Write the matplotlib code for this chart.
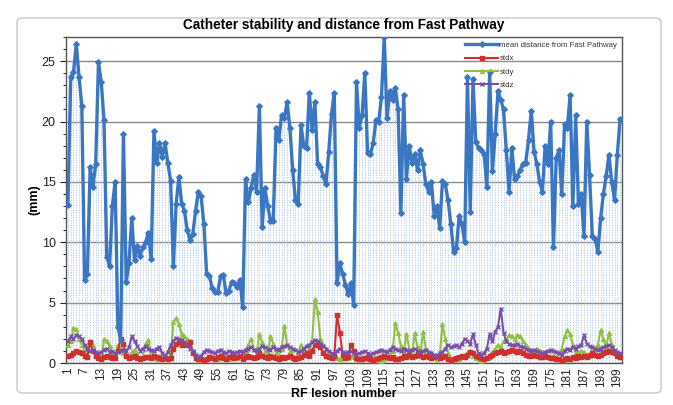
import matplotlib
matplotlib.use("Agg")
import matplotlib.pyplot as plt
from matplotlib.patches import FancyBboxPatch
from matplotlib.ticker import MultipleLocator
import numpy as np

lesion = list(range(1, 201))

mean_dist = [
    13.1, 23.7, 24.1, 26.4, 23.7, 21.3, 6.9, 7.4, 16.2, 14.6,
    16.5, 24.9, 23.3, 20.1, 8.8, 8.0, 13.0, 15.0, 3.0, 1.9,
    19.0, 6.7, 8.3, 12.0, 8.5, 9.7, 8.9, 9.6, 10.0, 10.8,
    8.6, 19.2, 16.6, 18.2, 17.1, 18.2, 16.6, 15.1, 8.0, 13.2,
    15.4, 13.2, 12.6, 11.0, 10.2, 10.7, 12.6, 14.2, 13.8, 11.5,
    7.4, 7.2, 6.2, 5.9, 5.9, 7.2, 7.3, 5.8, 6.0, 6.7,
    6.6, 6.3, 6.9, 4.6, 15.2, 13.3, 14.5, 15.6, 14.2, 21.3,
    11.3, 14.5, 13.0, 11.8, 11.8, 19.5, 18.5, 20.5, 20.3, 21.6,
    19.5, 16.0, 13.5, 13.2, 19.7, 18.0, 17.8, 22.4, 19.3, 21.6,
    16.5, 16.2, 15.5, 14.8, 17.5, 20.6, 22.4, 6.6, 8.3, 7.4,
    6.5, 5.7, 6.6, 4.8, 23.3, 19.5, 20.5, 24.0, 17.4, 17.3,
    18.2, 20.1, 20.0, 22.0, 27.0, 20.3, 22.5, 21.8, 22.8, 21.0,
    12.4, 22.2, 15.2, 18.0, 16.6, 17.3, 16.0, 17.6, 16.5, 14.8,
    14.2, 15.0, 12.2, 13.0, 11.2, 15.1, 14.8, 13.5, 11.5, 9.2,
    9.5, 12.2, 11.5, 10.0, 23.7, 12.5, 23.5, 18.3, 17.8, 17.6,
    17.3, 14.6, 24.1, 15.9, 19.0, 22.5, 21.8, 21.0, 17.6, 14.2,
    17.8, 15.2, 15.5, 16.0, 16.5, 16.6, 18.5, 20.9, 17.5, 16.5,
    15.0, 14.2, 18.0, 16.5, 20.0, 9.6, 17.0, 17.6, 14.0, 19.8,
    19.5, 22.2, 13.0, 20.5, 13.2, 14.0, 10.5, 20.0, 15.6, 10.5,
    10.3, 9.2, 12.0, 14.0, 15.5, 17.2, 15.0, 13.5, 17.2, 20.2,
]

stdx = [
    0.6, 0.7, 0.8, 1.0, 0.9, 0.8, 0.6, 0.5, 1.7, 1.0, 0.6, 0.4, 0.3, 0.5, 0.6, 0.5, 0.4, 0.4, 1.0, 2.0,
    1.6, 0.6, 0.4, 0.5, 0.6, 0.4, 0.3, 0.4, 0.5, 0.5, 0.4, 0.6, 0.5, 0.4, 0.3, 0.4, 0.3, 0.4, 1.2, 1.6,
    1.7, 1.5, 1.6, 1.5, 1.7, 0.8, 0.4, 0.3, 0.3, 0.2, 0.3, 0.5, 0.4, 0.3, 0.5, 0.6, 0.4, 0.3, 0.5, 0.6,
    0.4, 0.5, 0.6, 0.3, 0.5, 0.6, 0.5, 0.4, 0.5, 0.8, 0.6, 0.5, 0.4, 0.6, 0.5, 0.4, 0.3, 0.5, 0.4, 0.5,
    0.6, 0.4, 0.3, 0.4, 0.5, 0.7, 0.8, 0.6, 1.0, 1.5, 1.6, 1.3, 0.8, 0.6, 0.5, 0.4, 0.6, 4.0, 2.5, 0.7,
    0.4, 0.5, 1.5, 1.0, 0.4, 0.3, 0.3, 0.4, 0.5, 0.3, 0.2, 0.3, 0.4, 0.5, 0.6, 0.5, 0.4, 0.5, 0.3, 0.3,
    0.4, 0.6, 0.5, 0.7, 0.5, 0.6, 0.8, 0.7, 0.5, 0.6, 0.5, 0.4, 0.5, 0.6, 0.4, 0.5, 0.6, 0.3, 0.2, 0.3,
    0.4, 0.5, 0.6, 0.5, 0.7, 0.9, 0.8, 0.6, 0.5, 0.4, 0.3, 0.4, 0.6, 0.7, 0.8, 0.9, 1.0, 0.8, 0.9, 1.0,
    1.1, 1.0, 0.9, 1.0, 0.8, 0.7, 0.6, 0.6, 0.7, 0.6, 0.5, 0.5, 0.6, 0.5, 0.4, 0.4, 0.3, 0.3, 0.2, 0.3,
    0.4, 0.3, 0.5, 0.4, 0.6, 0.5, 0.6, 0.5, 0.7, 0.8, 0.7, 0.6, 0.7, 0.8, 0.9, 1.0, 0.9, 0.8, 0.6, 0.5,
]

stdy = [
    1.5, 1.8, 2.9, 2.8, 2.0, 1.5, 1.0, 1.2, 1.8, 1.5, 0.8, 0.5, 0.3, 2.0, 1.8, 1.4, 0.8, 0.5, 1.5, 1.2,
    0.8, 0.6, 0.5, 0.9, 1.1, 0.7, 0.4, 0.5, 1.6, 1.9, 0.8, 0.4, 0.3, 0.5, 0.6, 0.5, 0.4, 0.6, 3.4, 3.7,
    3.2, 2.4, 2.2, 2.0, 1.8, 1.0, 0.5, 0.3, 0.4, 0.3, 0.4, 0.6, 0.5, 0.4, 0.3, 0.5, 0.6, 0.4, 0.3, 0.4,
    0.5, 0.4, 0.6, 0.5, 1.0, 1.5, 2.0, 1.2, 0.8, 2.4, 1.7, 1.0, 0.8, 2.2, 1.6, 0.8, 0.6, 1.2, 3.1, 1.5,
    1.0, 0.6, 0.4, 0.8, 1.5, 1.0, 0.8, 1.2, 1.8, 5.3, 4.2, 2.0, 1.5, 1.2, 0.9, 0.6, 0.5, 0.4, 0.3, 0.4,
    0.5, 0.4, 0.6, 0.5, 0.3, 0.4, 0.5, 0.4, 0.3, 0.4, 0.5, 0.4, 0.3, 0.2, 0.3, 0.4, 0.6, 1.0, 3.3, 2.5,
    1.4, 0.9, 2.4, 1.2, 0.7, 2.5, 1.3, 0.6, 2.6, 1.2, 0.6, 0.4, 0.5, 0.3, 0.6, 3.2, 2.0, 0.8, 0.4, 0.3,
    0.4, 0.3, 0.5, 0.6, 0.8, 1.0, 0.6, 0.4, 0.3, 0.2, 0.3, 0.4, 0.5, 0.9, 1.2, 1.5, 1.3, 1.8, 2.0, 2.3,
    2.2, 2.0, 2.3, 2.2, 1.8, 1.5, 1.2, 1.0, 0.8, 1.2, 1.0, 0.7, 0.6, 0.5, 0.4, 0.6, 0.5, 0.8, 1.2, 2.2,
    2.7, 2.4, 1.5, 0.9, 0.8, 1.0, 0.9, 0.7, 0.6, 1.0, 1.2, 1.5, 2.7, 2.0, 1.3, 2.5, 1.5, 0.9, 0.7, 0.5,
]

stdz = [
    1.8, 2.2, 2.0, 2.3, 2.2, 2.0, 1.5, 1.2, 1.0, 1.1, 0.9, 0.8, 0.9, 1.1, 1.2, 0.9, 1.0, 0.8, 0.9, 1.0,
    1.1, 1.0, 1.3, 2.2, 1.8, 1.4, 1.0, 1.2, 1.4, 1.2, 1.1, 1.0, 1.2, 1.3, 0.8, 0.6, 0.9, 1.5, 1.8, 2.1,
    2.0, 1.9, 1.7, 1.5, 1.2, 1.0, 0.7, 0.5, 0.6, 0.9, 1.1, 1.0, 0.9, 0.8, 1.0, 1.1, 0.9, 0.8, 1.0, 0.9,
    0.8, 0.9, 1.0, 0.9, 1.1, 1.2, 1.3, 1.1, 1.0, 1.2, 1.4, 1.3, 1.2, 1.1, 1.3, 1.2, 1.1, 1.3, 1.4, 1.5,
    1.3, 1.2, 1.1, 0.9, 1.0, 1.2, 1.4, 1.5, 1.7, 1.9, 1.8, 1.6, 1.4, 1.2, 1.0, 0.8, 0.7, 1.0, 1.2, 0.9,
    0.8, 0.9, 1.0, 0.8, 0.7, 0.8, 0.9, 1.0, 0.8, 0.7, 0.8, 0.9, 1.0, 1.1, 1.0, 0.9, 1.1, 1.3, 1.2, 1.1,
    1.0, 1.2, 1.1, 1.0, 1.1, 1.2, 1.0, 0.9, 1.0, 1.1, 0.9, 0.8, 0.7, 0.6, 0.8, 0.9, 1.2, 1.5, 1.3, 1.4,
    1.5, 1.3, 1.6, 2.0, 1.8, 1.6, 2.4, 1.5, 0.8, 0.7, 0.8, 1.2, 2.4, 1.8, 2.6, 3.0, 4.5, 2.5, 1.8, 1.6,
    1.5, 1.5, 1.6, 1.4, 1.3, 1.2, 1.1, 1.0, 1.1, 1.0, 0.9, 0.8, 0.9, 1.0, 1.1, 1.0, 0.9, 0.8, 0.7, 1.0,
    1.2, 1.1, 1.3, 1.2, 1.4, 1.5, 2.3, 1.6, 1.4, 1.3, 1.2, 1.1, 1.2, 1.3, 1.4, 1.5, 1.3, 1.1, 0.9, 0.8,
]

tick_labels = [str(v) for v in range(1, 201, 6)]

title = "Catheter stability and distance from Fast Pathway"
series_names = ["mean distance from Fast Pathway", "stdx", "stdy", "stdz"]

plt.rcParams['font.family'] = ['Liberation Sans', 'DejaVu Sans']

fig = plt.figure(figsize=(6.73, 4.05), dpi=100)
fig.patch.set_facecolor('white')

bg = fig.add_axes([0, 0, 1, 1], zorder=-10)
bg.set_axis_off()
bg.set_xlim(0, 1)
bg.set_ylim(0, 1)
bg.add_patch(FancyBboxPatch((17 / 673, 12 / 405), 644 / 673, 375 / 405,
                            boxstyle="round,pad=0,rounding_size=0.01",
                            facecolor='white', edgecolor='#c8c8c8',
                            linewidth=1.0))

ax = fig.add_axes([66 / 673, 1 - 363 / 405, (622 - 66) / 673, (363 - 37) / 405])
ax.set_facecolor('none')

# drop lines
ax.vlines(lesion, 0, mean_dist, colors='#a8c3e8', linewidth=0.6,
          linestyles=(0, (1.5, 1.5)), zorder=1)

ax.plot(lesion, mean_dist, color='#3a76c2', lw=2.4, marker='D', ms=2.8,
        label=series_names[0], zorder=5)
ax.plot(lesion, stdx, color='#d0302c', lw=1.5, marker='s', ms=2.4,
        label=series_names[1], zorder=4)
ax.plot(lesion, stdy, color='#92c045', lw=1.5, marker='^', ms=2.8,
        label=series_names[2], zorder=3)
ax.plot(lesion, stdz, color='#7a4fa8', lw=1.5, marker='x', ms=2.8,
        label=series_names[3], zorder=4)

ax.set_xlim(0.3, 200.7)
ax.set_ylim(0, 27)
ax.yaxis.set_major_locator(MultipleLocator(5))
ax.yaxis.set_minor_locator(MultipleLocator(1))
ax.grid(axis='y', which='major', color='#8a8a8a', linewidth=1.0, zorder=0)
ax.set_axisbelow(True)

ax.set_xticks(list(range(1, 201, 6)))
ax.set_xticklabels(tick_labels, rotation=90, fontsize=8.5, color='#222222')
ax.tick_params(axis='x', length=0, pad=3)
ax.tick_params(axis='y', which='major', length=4, labelsize=9, colors='#222222')
ax.tick_params(axis='y', which='minor', length=2.5)

for s in ax.spines.values():
    s.set_color('#555555')
    s.set_linewidth(1.0)

ax.set_ylabel("(mm)", fontsize=9, fontweight='bold', labelpad=1)
ax.set_xlabel("RF lesion number", fontsize=9, fontweight='bold', labelpad=1)
ax.set_title(title, fontsize=9.8, fontweight='bold', pad=6)

leg = ax.legend(loc='upper right', fontsize=5.6, frameon=False,
                handlelength=4.2, borderaxespad=0.2, labelspacing=0.75,
                handletextpad=0.2)
for t in leg.get_texts():
    t.set_color('#333333')

fig.savefig("out.png", dpi=100, facecolor='white')
